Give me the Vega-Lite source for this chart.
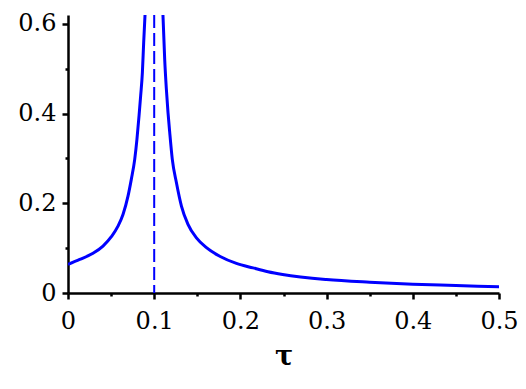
{
  "$schema": "https://vega.github.io/schema/vega-lite/v6.json",
  "width": 431,
  "height": 278,
  "autosize": {"type": "none"},
  "padding": {"left": 68, "top": 15, "right": 27, "bottom": 96},
  "background": "white",
  "config": {
    "view": {"stroke": null},
    "font": "DejaVu Serif",
    "axis": {
      "labelFont": "DejaVu Serif", "labelFontSize": 24, "labelColor": "black",
      "titleFont": "DejaVu Serif", "titleFontSize": 27, "titleFontWeight": "bold", "titleColor": "black",
      "grid": false,
      "domainColor": "black", "domainWidth": 2.5,
      "tickColor": "black", "tickWidth": 2.5
    }
  },
  "datasets": {
    "curve": [
      {"tau": 0.0, "v": 0.0637, "branch": "L"},
      {"tau": 0.0136, "v": 0.0749, "branch": "L"},
      {"tau": 0.029, "v": 0.0885, "branch": "L"},
      {"tau": 0.0406, "v": 0.1046, "branch": "L"},
      {"tau": 0.0503, "v": 0.1255, "branch": "L"},
      {"tau": 0.058, "v": 0.149, "branch": "L"},
      {"tau": 0.0638, "v": 0.175, "branch": "L"},
      {"tau": 0.0696, "v": 0.216, "branch": "L"},
      {"tau": 0.0735, "v": 0.254, "branch": "L"},
      {"tau": 0.0774, "v": 0.298, "branch": "L"},
      {"tau": 0.080, "v": 0.343, "branch": "L"},
      {"tau": 0.0824, "v": 0.395, "branch": "L"},
      {"tau": 0.0843, "v": 0.44, "branch": "L"},
      {"tau": 0.0863, "v": 0.492, "branch": "L"},
      {"tau": 0.0878, "v": 0.559, "branch": "L"},
      {"tau": 0.0893, "v": 0.618, "branch": "L"},
      {"tau": 0.0905, "v": 0.66, "branch": "L"},
      {"tau": 0.1095, "v": 0.66, "branch": "R"},
      {"tau": 0.1102, "v": 0.618, "branch": "R"},
      {"tau": 0.1122, "v": 0.52, "branch": "R"},
      {"tau": 0.1141, "v": 0.455, "branch": "R"},
      {"tau": 0.116, "v": 0.403, "branch": "R"},
      {"tau": 0.118, "v": 0.358, "branch": "R"},
      {"tau": 0.121, "v": 0.298, "branch": "R"},
      {"tau": 0.1258, "v": 0.246, "branch": "R"},
      {"tau": 0.1316, "v": 0.194, "branch": "R"},
      {"tau": 0.1392, "v": 0.153, "branch": "R"},
      {"tau": 0.149, "v": 0.123, "branch": "R"},
      {"tau": 0.1606, "v": 0.101, "branch": "R"},
      {"tau": 0.176, "v": 0.082, "branch": "R"},
      {"tau": 0.1954, "v": 0.066, "branch": "R"},
      {"tau": 0.2146, "v": 0.056, "branch": "R"},
      {"tau": 0.232, "v": 0.0475, "branch": "R"},
      {"tau": 0.249, "v": 0.0413, "branch": "R"},
      {"tau": 0.2998, "v": 0.030, "branch": "R"},
      {"tau": 0.35, "v": 0.024, "branch": "R"},
      {"tau": 0.40, "v": 0.0197, "branch": "R"},
      {"tau": 0.45, "v": 0.0168, "branch": "R"},
      {"tau": 0.5, "v": 0.0139, "branch": "R"}
    ],
    "asym": [{"tau": 0.1}]
  },
  "layer": [
    {
      "data": {"name": "curve"},
      "mark": {"type": "line", "color": "#0000ff", "strokeWidth": 3, "clip": true, "interpolate": "monotone"},
      "encoding": {
        "x": {
          "field": "tau", "type": "quantitative",
          "scale": {"domain": [0, 0.5], "nice": false, "zero": false},
          "axis": {
            "title": "τ",
            "values": [0, 0.05, 0.1, 0.15, 0.2, 0.25, 0.3, 0.35, 0.4, 0.45, 0.5],
            "labelExpr": "abs(datum.value*10 - round(datum.value*10)) < 0.001 ? (datum.value == 0 ? '0' : format(datum.value, '.1f')) : ''",
            "tickSize": {"condition": {"test": "abs(datum.value*10 - round(datum.value*10)) < 0.001", "value": 6}, "value": 3},
            "labelPadding": 10, "labelFlush": false, "labelOverlap": false,
            "titlePadding": 10
          }
        },
        "y": {
          "field": "v", "type": "quantitative",
          "scale": {"domain": [0, 0.62], "nice": false, "zero": false},
          "axis": {
            "title": null,
            "values": [0, 0.1, 0.2, 0.3, 0.4, 0.5, 0.6],
            "labelExpr": "abs(datum.value*5 - round(datum.value*5)) < 0.001 ? (datum.value == 0 ? '0' : format(datum.value, '.1f')) : ''",
            "tickSize": {"condition": {"test": "abs(datum.value*5 - round(datum.value*5)) < 0.001", "value": 6}, "value": 3},
            "labelPadding": 6, "labelFlush": false, "labelOverlap": false
          }
        },
        "detail": {"field": "branch"}
      }
    },
    {
      "data": {"name": "asym"},
      "mark": {"type": "rule", "color": "#0000ff", "strokeWidth": 2, "strokeDash": [13, 5]},
      "encoding": {
        "x": {"field": "tau", "type": "quantitative"}
      }
    }
  ]
}
